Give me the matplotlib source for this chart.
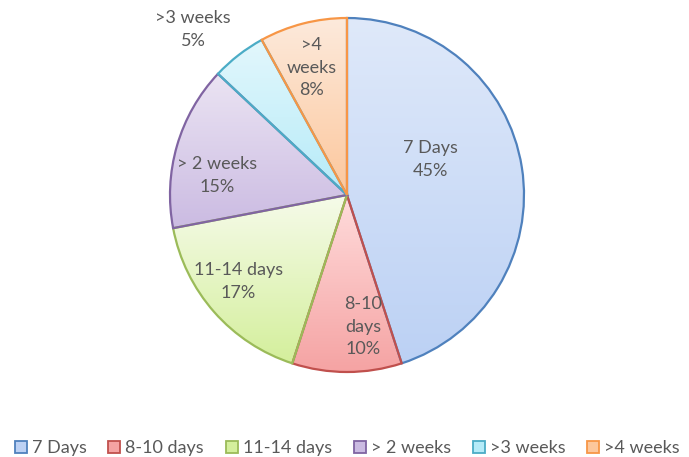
import numpy as np
import matplotlib.pyplot as plt
from matplotlib.lines import Line2D

# duration categories and their share (%)
labels = ['7 Days', '8-10 days', '11-14 days', '> 2 weeks', '>3 weeks', '>4 weeks']
values = [45, 10, 17, 15, 5, 8]
pct_text = ['45%', '10%', '17%', '15%', '5%', '8%']
slice_text = ['7 Days', '8-10\ndays', '11-14 days', '> 2 weeks', '>3 weeks', '>4\nweeks']

# outline colour, light top colour, darker bottom colour of each slice
edge_cols = ['#4F81BD', '#C0504D', '#9BBB59', '#8064A2', '#4BACC6', '#F79646']
top_cols = ['#dfe9fa', '#ffdcdc', '#f6fbea', '#ebe4f3', '#e3f7fc', '#fdeadc']
bot_cols = ['#bcd1f4', '#f5a3a3', '#d4ef9c', '#cbbbe2', '#b5ebf8', '#fcc79c']

# where the labels sit (data units, pie radius = 1)
label_xy = [(0.47, 0.20), (0.09, -0.745), (-0.615, -0.49), (-0.735, 0.11),
            (-0.87, 0.935), (-0.20, 0.72)]

plt.rcParams['font.family'] = ['Lato', 'DejaVu Sans']
txt_col = '#595959'

fig = plt.figure(figsize=(6.89, 4.57), dpi=100)
ax = fig.add_axes([170 / 689, (457 - 372) / 457, 354 / 689, 354 / 457])

wedges, _ = ax.pie(values, startangle=90, counterclock=False, radius=1,
                   wedgeprops=dict(linewidth=1.6))


def mix(c1, c2, n=256):
    a = np.array(plt.matplotlib.colors.to_rgb(c1))
    b = np.array(plt.matplotlib.colors.to_rgb(c2))
    t = np.linspace(0, 1, n)[:, None]
    return (a * (1 - t) + b * t)[:, None, :]


for w, ec, tc, bc in zip(wedges, edge_cols, top_cols, bot_cols):
    w.set_facecolor('none')
    w.set_edgecolor(ec)
    w.set_zorder(3)
    # vertical gradient over the wedge's own extent
    verts = w.get_path().vertices
    x0, x1 = verts[:, 0].min(), verts[:, 0].max()
    y0, y1 = verts[:, 1].min(), verts[:, 1].max()
    im = ax.imshow(mix(tc, bc), extent=[x0, x1, y0, y1], aspect='auto',
                   origin='upper', zorder=2, interpolation='bilinear')
    im.set_clip_path(w)

for (x, y), s, p in zip(label_xy, slice_text, pct_text):
    ax.text(x, y, s + '\n' + p, ha='center', va='center', fontsize=13,
            color=txt_col, linespacing=1.5, zorder=5)

ax.set_xlim(-1, 1)
ax.set_ylim(-1, 1)
ax.set_aspect('equal')
ax.axis('off')

handles = [Line2D([], [], marker='s', linestyle='none', markersize=9,
                  markerfacecolor=bc, markeredgecolor=ec, markeredgewidth=1.3)
           for ec, bc in zip(edge_cols, bot_cols)]
fig.legend(handles, labels, loc='center', bbox_to_anchor=(0.503, 1 - 448 / 457),
           ncol=6, frameon=False, fontsize=13, labelcolor=txt_col,
           handlelength=0.8, handletextpad=0.2, columnspacing=1.15)

fig.savefig('out.png', dpi=100)
